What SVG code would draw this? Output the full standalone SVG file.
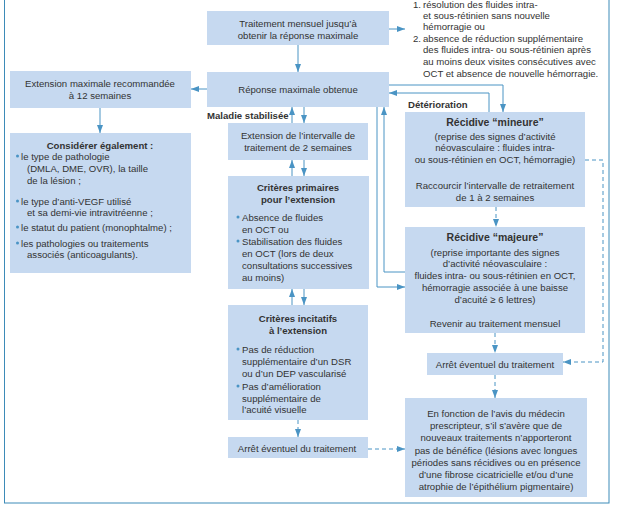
<svg xmlns="http://www.w3.org/2000/svg" width="619" height="516" viewBox="0 0 619 516">
<defs>
<marker id="ah" markerWidth="8" markerHeight="6" refX="8" refY="3" orient="auto" markerUnits="userSpaceOnUse">
<path d="M0,0 L8,3 L0,6 z" fill="#4a94c4"/>
</marker>
</defs>
<style>
.box{fill:#c6d9f0;}
.t{font-family:"Liberation Sans",Arial,sans-serif;font-size:9.6px;fill:#333;}
.c{text-anchor:middle;}
.b{font-weight:bold;}
.ln{fill:none;stroke:#4a94c4;stroke-width:1;}
.d{stroke-dasharray:4,3;}
.dot{fill:#4a94c4;}
.frame{fill:none;stroke:#3d8bb8;stroke-width:1;}
</style>
<rect width="619" height="516" fill="#ffffff"/>
<rect class="frame" x="4.5" y="-5" width="604.5" height="508"/>

<g id="connectors">
<line class="ln" x1="298" y1="45" x2="298" y2="72" marker-end="url(#ah)"/>
<line class="ln" x1="389" y1="29" x2="405" y2="29" marker-end="url(#ah)"/>
<line class="ln" x1="207" y1="89" x2="191" y2="89" marker-end="url(#ah)"/>
<line class="ln" x1="100" y1="108" x2="100" y2="133" marker-end="url(#ah)"/>
<line class="ln" x1="292" y1="123" x2="292" y2="107" marker-end="url(#ah)"/>
<line class="ln" x1="304" y1="107" x2="304" y2="123" marker-end="url(#ah)"/>
<line class="ln" x1="292" y1="176" x2="292" y2="160" marker-end="url(#ah)"/>
<line class="ln" x1="304" y1="160" x2="304" y2="176" marker-end="url(#ah)"/>
<line class="ln" x1="292" y1="305" x2="292" y2="289" marker-end="url(#ah)"/>
<line class="ln" x1="304" y1="289" x2="304" y2="305" marker-end="url(#ah)"/>
<line class="ln d" x1="298" y1="420" x2="298" y2="437" marker-end="url(#ah)"/>
<line class="ln d" x1="368" y1="449" x2="405" y2="449" marker-end="url(#ah)"/>
<polyline class="ln" points="389,85 503,85 503,112" marker-end="url(#ah)"/>
<polyline class="ln" points="489,112 489,93 389,93" marker-end="url(#ah)"/>
<polyline class="ln" points="377,107 377,287 405,287" marker-end="url(#ah)"/>
<polyline class="ln" points="405,272 384,272 384,107" marker-end="url(#ah)"/>
<line class="ln d" x1="496" y1="207" x2="496" y2="227" marker-end="url(#ah)"/>
<line class="ln d" x1="495" y1="333" x2="495" y2="353" marker-end="url(#ah)"/>
<line class="ln d" x1="495" y1="375" x2="495" y2="398" marker-end="url(#ah)"/>
<polyline class="ln d" points="585,160 603,160 603,362 563,362" marker-end="url(#ah)"/>
</g>

<g id="note">
<text class="t" x="413" y="7.5">1.</text>
<text class="t" x="423" y="7.5">résolution des fluides intra-</text>
<text class="t" x="423" y="18.5">et sous-rétinien sans nouvelle</text>
<text class="t" x="423" y="30">hémorragie ou</text>
<text class="t" x="413" y="41.5">2.</text>
<text class="t" x="423" y="41.5">absence de réduction supplémentaire</text>
<text class="t" x="423" y="53">des fluides intra- ou sous-rétinien après</text>
<text class="t" x="423" y="65">au moins deux visites consécutives avec</text>
<text class="t" x="423" y="77">OCT et absence de nouvelle hémorragie.</text>
</g>

<g id="label-stab"><text class="t b" x="207" y="119">Maladie stabilisée</text></g>
<g id="label-det"><text class="t b" x="408" y="108">Détérioration</text></g>

<g id="n1">
<rect class="box" x="207" y="11" width="182" height="34"/>
<text class="t c" x="298" y="27">Traitement mensuel jusqu’à</text>
<text class="t c" x="298" y="38.5">obtenir la réponse maximale</text>
</g>

<g id="n2">
<rect class="box" x="207" y="72" width="182" height="35"/>
<text class="t c" x="298" y="93">Réponse maximale obtenue</text>
</g>

<g id="n3">
<rect class="box" x="10" y="71" width="181" height="37"/>
<text class="t c" x="100" y="86.5">Extension maximale recommandée</text>
<text class="t c" x="100" y="98.5">à 12 semaines</text>
</g>

<g id="n4">
<rect class="box" x="10" y="133" width="181" height="140"/>
<text class="t c b" x="100" y="148.5">Considérer également :</text>
<circle class="dot" cx="17.5" cy="156" r="1.5"/>
<text class="t" x="21" y="159.5">le type de pathologie</text>
<text class="t" x="27" y="171.5">(DMLA, DME, OVR), la taille</text>
<text class="t" x="27" y="183.5">de la lésion ;</text>
<circle class="dot" cx="17.5" cy="201" r="1.5"/>
<text class="t" x="21" y="204.5">le type d’anti-VEGF utilisé</text>
<text class="t" x="27" y="215.5">et sa demi-vie intravitréenne ;</text>
<circle class="dot" cx="17.5" cy="227" r="1.5"/>
<text class="t" x="21" y="230.5">le statut du patient (monophtalme) ;</text>
<circle class="dot" cx="17.5" cy="243" r="1.5"/>
<text class="t" x="21" y="246.5">les pathologies ou traitements</text>
<text class="t" x="27" y="257.5">associés (anticoagulants).</text>
</g>

<g id="n5">
<rect class="box" x="228" y="123" width="140" height="37"/>
<text class="t c" x="298" y="138.5">Extension de l’intervalle de</text>
<text class="t c" x="298" y="150.5">traitement de 2 semaines</text>
</g>

<g id="n6">
<rect class="box" x="228" y="176" width="141" height="113"/>
<text class="t c b" x="298" y="190.5">Critères primaires</text>
<text class="t c b" x="298" y="202.5">pour l’extension</text>
<circle class="dot" cx="238" cy="217" r="1.5"/>
<text class="t" x="242" y="220.5">Absence de fluides</text>
<text class="t" x="242" y="232.5">en OCT ou</text>
<circle class="dot" cx="238" cy="241" r="1.5"/>
<text class="t" x="242" y="244.5">Stabilisation des fluides</text>
<text class="t" x="242" y="256.5">en OCT (lors de deux</text>
<text class="t" x="242" y="268.5">consultations successives</text>
<text class="t" x="242" y="280.5">au moins)</text>
</g>

<g id="n7">
<rect class="box" x="228" y="305" width="140" height="115"/>
<text class="t c b" x="298" y="321.5">Critères incitatifs</text>
<text class="t c b" x="298" y="334">à l’extension</text>
<circle class="dot" cx="238" cy="349" r="1.5"/>
<text class="t" x="242" y="352.5">Pas de réduction</text>
<text class="t" x="242" y="364.5">supplémentaire d’un DSR</text>
<text class="t" x="242" y="376.5">ou d’un DEP vascularisé</text>
<circle class="dot" cx="238" cy="386" r="1.5"/>
<text class="t" x="242" y="389.5">Pas d’amélioration</text>
<text class="t" x="242" y="401.5">supplémentaire de</text>
<text class="t" x="242" y="413">l’acuité visuelle</text>
</g>

<g id="n8">
<rect class="box" x="228" y="437" width="140" height="21"/>
<text class="t c" x="297" y="451.5">Arrêt éventuel du traitement</text>
</g>

<g id="n9">
<rect class="box" x="405" y="112" width="180" height="95"/>
<text class="t c b" x="495" y="125.5" style="font-size:10.5px">Récidive “mineure”</text>
<text class="t c" x="495" y="139.5">(reprise des signes d’activité</text>
<text class="t c" x="495" y="151">néovasculaire : fluides intra-</text>
<text class="t c" x="495" y="163">ou sous-rétinien en OCT, hémorragie)</text>
<text class="t c" x="495" y="188.5">Raccourcir l’intervalle de retraitement</text>
<text class="t c" x="495" y="200.5">de 1 à 2 semaines</text>
</g>

<g id="n10">
<rect class="box" x="405" y="227" width="180" height="106"/>
<text class="t c b" x="495" y="240.5" style="font-size:10.5px">Récidive “majeure”</text>
<text class="t c" x="495" y="255.5">(reprise importante des signes</text>
<text class="t c" x="495" y="267">d’activité néovasculaire :</text>
<text class="t c" x="495" y="278.5">fluides intra- ou sous-rétinien en OCT,</text>
<text class="t c" x="495" y="290.5">hémorragie associée à une baisse</text>
<text class="t c" x="495" y="302.5">d’acuité ≥ 6 lettres)</text>
<text class="t c" x="495" y="326.5">Revenir au traitement mensuel</text>
</g>

<g id="n11">
<rect class="box" x="427" y="353" width="136" height="22"/>
<text class="t c" x="495" y="367.5">Arrêt éventuel du traitement</text>
</g>

<g id="n12">
<rect class="box" x="405" y="398" width="182" height="99"/>
<text class="t c" x="496" y="416.5">En fonction de l’avis du médecin</text>
<text class="t c" x="496" y="429">prescripteur, s’il s’avère que de</text>
<text class="t c" x="496" y="441">nouveaux traitements n’apporteront</text>
<text class="t c" x="496" y="453.5">pas de bénéfice (lésions avec longues</text>
<text class="t c" x="496" y="465.5">périodes sans récidives ou en présence</text>
<text class="t c" x="496" y="477.5">d’une fibrose cicatricielle et/ou d’une</text>
<text class="t c" x="496" y="490">atrophie de l’épithélium pigmentaire)</text>
</g>
</svg>
